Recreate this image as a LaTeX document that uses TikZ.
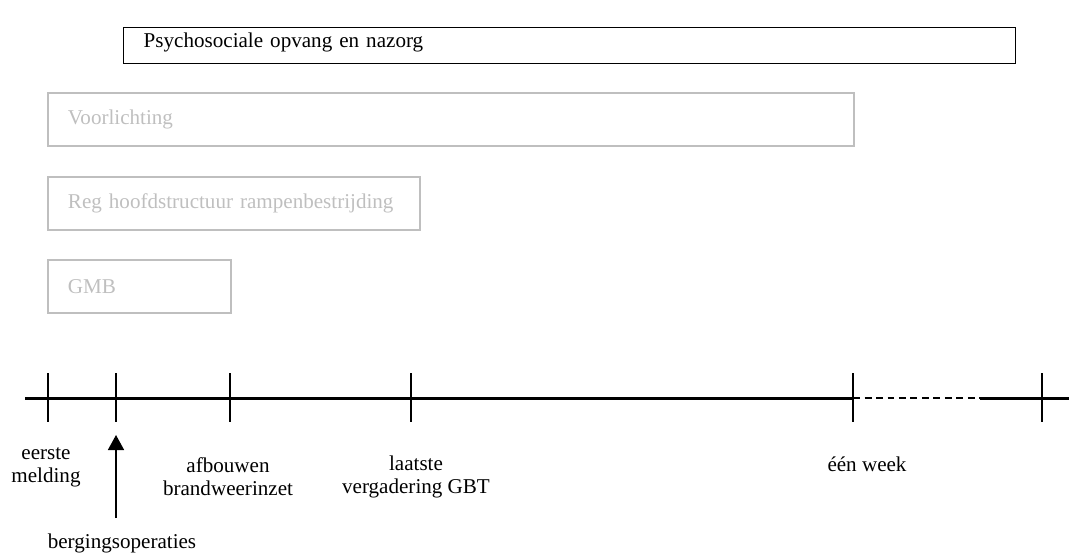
\documentclass[tikz,border=0pt]{standalone}
\usepackage{fontspec}
\setmainfont{Liberation Serif}
\usetikzlibrary{positioning,arrows.meta}

\begin{document}
\begin{tikzpicture}[x=0.02cm,y=-0.02cm,font=\fontsize{12}{13}\selectfont]
\useasboundingbox (0,0) rectangle (1069,555);

      \begin{scope}[every node/.style={draw,anchor=north west,inner xsep=0.4cm,inner ysep=0pt,align=left}]
        \node[line width=0.85pt,minimum width=17.84cm,minimum height=0.72cm,text width=17.04cm,text depth=0.22cm] (nazorg) at (123,27) {Psychosociale opvang en nazorg};
        \node[draw=black!25,text=black!25,line width=1.1pt,minimum width=16.12cm,minimum height=1.06cm,text width=15.32cm] (voorlichting) at (47,92) {Voorlichting};
        \node[draw=black!25,text=black!25,line width=1.1pt,minimum width=7.44cm,minimum height=1.06cm,text width=6.64cm] (reg) at (47,176) {Reg hoofdstructuur rampenbestrijding};
        \node[draw=black!25,text=black!25,line width=1.1pt,minimum width=3.66cm,minimum height=1.06cm,text width=2.86cm] (gmb) at (47,259) {GMB};
      \end{scope}

      % tijdlijn
      \coordinate (begin) at (25,398);
      \coordinate (t1) at (48,398);
      \coordinate (t2) at (116,398);
      \coordinate (t3) at (230,398);
      \coordinate (t4) at (411,398);
      \coordinate (t5) at (853,398);
      \coordinate (dash) at (980,398);
      \coordinate (t6) at (1042,398);
      \coordinate (end) at (1069,398);

      \draw[line width=1.7pt] (begin) -- (t5);
      \draw[line width=0.85pt,dash pattern=on 0.14cm off 0.09cm] (t5) -- (dash);
      \draw[line width=1.7pt] (dash) -- (end);

      \foreach \t in {t1,t2,t3,t4,t5,t6}
        \draw[line width=0.85pt] (\t) ++(0,-25) -- ++(0,49);

      \begin{scope}[every node/.style={align=center,inner sep=0pt}]
        \node (melding) at (46,467) {eerste\\melding};
        \node (afbouwen) at (228,477) {afbouwen\\brandweerinzet};
        \node (gbt) at (416,477) {laatste\\vergadering GBT};
        \node (week) at (867,464) {één week};
        \node (berging) at (122,543) {bergingsoperaties};
      \end{scope}

      \coordinate (tip) at (116,435);
      \draw[line width=0.9pt,-{Triangle[width=0.32cm,length=0.3cm]}] (116,518) -- (tip);

\end{tikzpicture}
\end{document}
